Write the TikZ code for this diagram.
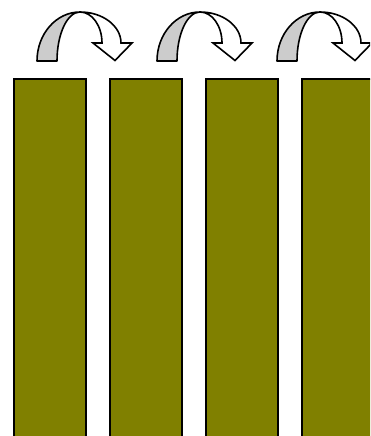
\documentclass[tikz,border=0pt]{standalone}
\usepackage{tikz}
\definecolor{barolive}{RGB}{128,128,0}
\definecolor{backgray}{RGB}{204,204,204}

\begin{document}
\begin{tikzpicture}[x=1pt,y=-1pt]
    % Styling
    \tikzset{
        c_bar/.style={fill=barolive, draw=black, line width=1.6pt},
        c_back/.style={fill=backgray, draw=black, line width=1.6pt, line join=round},
        c_front/.style={fill=white, draw=black, line width=1.6pt, line join=miter}
    }

    % Frame
    \clip (0,0) rectangle (370,436);

    % Draw bars
    \foreach \i in {0,1,2,3} {
        \draw[c_bar] ({14+96*\i},79) rectangle ({86+96*\i},445);
    }

    % Draw turning arrows
    \foreach \i in {0,1,2} {
        \begin{scope}[xshift={120*\i}]
            \draw[c_back] (37,61) arc[start angle=180, end angle=270, x radius=43, y radius=49]
                arc[start angle=270, end angle=180, x radius=23, y radius=49] -- cycle;
            \draw[c_front] (80,12) arc[start angle=270, end angle=360, x radius=41, y radius=31]
                -- (132,43) -- (115,60.5) -- (93,43) -- (102,43)
                arc[start angle=360, end angle=270, x radius=22, y radius=31] -- cycle;
        \end{scope}
    }
\end{tikzpicture}
\end{document}
